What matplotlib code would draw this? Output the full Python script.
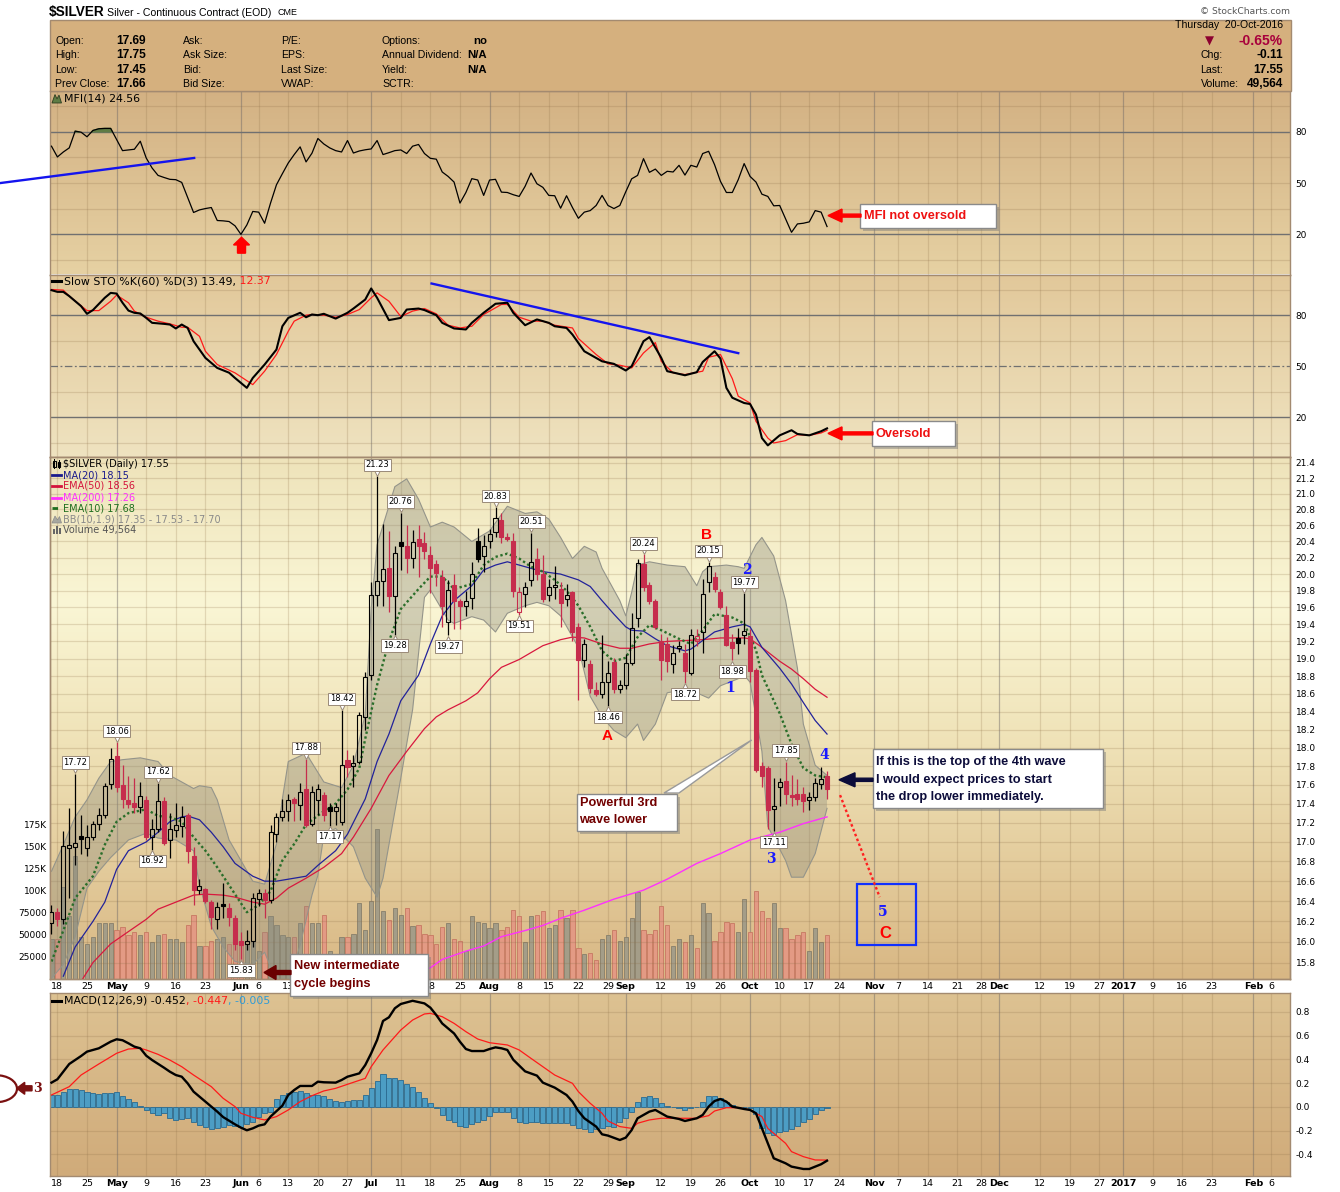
import numpy as np
import pandas as pd
import matplotlib
matplotlib.use("Agg")
import matplotlib.pyplot as plt
from matplotlib.patches import Rectangle, Polygon, FancyArrow, Ellipse
from matplotlib.colors import LinearSegmentedColormap
from matplotlib.transforms import offset_copy
from matplotlib.ticker import NullLocator, NullFormatter

# ----------------------------------------------------------------- calendar
first_session = "2016-04-15"
axis_end = "2017-02-10"
holidays = ["2016-05-30", "2016-07-04", "2016-09-05", "2016-11-24", "2016-12-26"]

# ----------------------------------------------------------------- daily data (session 0 = 15-Apr-2016)
opens = [16.18,16.29,16.22,16.94,16.95,17.06,16.94,17.05,17.19,17.28,
         17.61,17.91,17.60,17.44,17.41,17.36,17.44,17.05,17.13,17.43,
         17.02,17.12,17.16,17.28,16.86,16.51,16.52,16.39,16.22,16.37,
         16.33,16.23,16.01,15.98,16.01,16.42,16.48,16.41,17.08,17.26,
         17.32,17.45,17.39,17.55,17.19,17.44,17.49,17.36,17.32,17.21,
         17.87,17.80,17.85,18.34,18.81,19.75,19.92,20.07,19.74,20.39,
         20.35,20.20,20.43,20.38,20.23,20.12,19.97,19.43,19.87,19.68,
         19.62,19.71,20.41,20.22,20.40,20.52,20.67,20.46,20.40,19.55,
         19.76,19.93,20.19,20.00,19.75,19.85,19.82,19.70,19.78,19.37,
         18.99,18.94,18.64,18.60,18.73,18.96,18.65,18.70,18.95,19.47,
         20.12,19.87,19.68,19.21,19.17,18.94,19.12,19.06,18.84,19.21,
         19.31,19.90,19.96,19.79,19.51,19.19,19.24,19.27,19.26,18.87,
         17.80,17.78,17.34,17.58,17.64,17.49,17.50,17.50,17.44,17.47,
         17.61,17.69]
highs = [16.36,16.33,17.11,17.35,17.72,17.28,17.18,17.22,17.35,17.62,
         18.00,18.06,17.81,17.69,17.67,17.63,17.48,17.24,17.62,17.47,
         17.30,17.41,17.37,17.30,16.95,16.62,16.53,16.41,16.39,16.58,
         16.38,16.26,16.10,16.12,16.48,16.52,16.52,17.18,17.30,17.45,
         17.50,17.47,17.62,17.88,17.59,17.61,17.52,17.41,17.41,18.42,
         17.97,17.92,18.40,18.85,19.90,21.23,20.62,20.53,20.34,20.76,
         20.60,20.54,20.60,20.52,20.34,20.17,20.05,19.93,20.00,19.70,
         19.80,20.15,20.57,20.48,20.55,20.83,20.75,20.50,20.50,19.85,
         19.90,20.51,20.32,20.23,19.94,20.10,19.90,19.88,19.80,19.41,
         19.23,18.99,18.73,19.27,18.97,19.01,18.75,19.05,19.53,20.19,
         20.24,19.90,19.70,19.29,19.25,19.16,19.20,19.17,19.34,19.34,
         19.94,20.15,20.03,19.82,19.62,19.29,19.36,19.77,19.34,18.89,
         17.85,17.80,17.67,17.67,17.85,17.70,17.66,17.58,17.52,17.67,
         17.79,17.75]
lows = [16.08,16.15,16.17,16.43,16.76,16.88,16.86,17.02,17.12,17.25,
        17.55,17.52,17.35,17.35,17.30,17.30,17.02,16.92,17.10,16.97,
        16.84,17.05,17.05,16.78,16.36,16.47,16.38,16.13,16.13,16.23,
        16.15,15.92,15.83,15.92,15.95,16.35,16.23,16.38,17.00,17.22,
        17.22,17.22,17.23,17.15,17.17,17.28,17.22,17.17,17.18,17.18,
        17.68,17.58,17.82,18.20,18.75,19.62,19.62,19.54,19.28,20.05,
        20.01,20.07,19.97,20.19,19.77,19.86,19.37,19.27,19.35,19.35,
        19.50,19.58,20.15,20.03,20.32,20.45,20.38,20.40,19.73,19.51,
        19.60,19.86,19.93,19.66,19.68,19.70,19.37,19.62,19.21,18.53,
        18.90,18.61,18.57,18.55,18.46,18.61,18.61,18.65,18.93,19.37,
        19.80,19.64,19.35,18.75,18.85,18.83,19.08,18.72,18.81,19.15,
        19.07,19.78,19.78,19.58,19.15,18.98,19.05,19.17,18.73,17.74,
        17.58,17.13,17.11,17.37,17.40,17.37,17.39,17.31,17.33,17.43,
        17.55,17.45]
closes = [16.29,16.22,16.96,16.97,16.99,17.03,17.05,17.19,17.28,17.59,
          17.88,17.58,17.45,17.40,17.36,17.48,17.05,17.13,17.43,16.99,
          17.13,17.18,17.26,16.91,16.51,16.55,16.40,16.24,16.34,16.35,
          16.24,15.98,15.97,16.01,16.43,16.48,16.41,17.10,17.26,17.32,
          17.44,17.41,17.52,17.18,17.52,17.56,17.28,17.32,17.36,17.81,
          17.79,17.83,18.36,18.79,19.75,19.92,20.06,19.74,20.26,20.35,
          20.20,20.39,20.35,20.28,20.07,20.01,19.62,19.81,19.68,19.62,
          19.68,20.00,20.18,20.34,20.49,20.69,20.45,20.43,19.80,19.79,
          19.85,20.15,20.00,19.70,19.85,19.87,19.65,19.75,19.31,18.99,
          19.17,18.66,18.60,18.73,18.84,18.65,18.70,18.95,19.36,20.13,
          19.85,19.68,19.37,18.99,18.97,19.06,19.15,18.86,19.28,19.26,
          19.76,20.10,19.82,19.60,19.16,19.12,19.18,19.32,18.86,17.76,
          17.69,17.33,17.37,17.63,17.50,17.47,17.45,17.43,17.47,17.62,
          17.66,17.55]
volumes = [45000,45000,103700,70500,139000,47000,39100,47000,62600,63400,
           62600,54800,58700,48900,52800,48900,52800,41100,48900,50900,
           45000,45000,41100,60700,72400,37200,37200,43100,45000,47000,
           39100,62600,43100,39100,43100,31300,52800,70500,60700,48900,
           47000,47000,62600,82200,62600,62600,72400,31300,27400,47000,
           47000,50900,86100,54800,88100,170300,76300,66500,80200,72400,
           80200,59500,60700,50900,48900,39100,58700,62600,45000,43100,
           31300,70500,64600,62600,56800,62600,54800,58700,78300,70500,
           41100,70500,72400,76300,56800,60700,78300,68500,78300,35200,
           27400,29400,21500,45000,48900,54800,43100,47000,68500,97900,
           54800,50900,54800,82200,60700,37200,45000,41100,48900,35200,
           86100,74400,43100,52800,64600,62600,52800,90000,52800,99800,
           76300,68500,86100,56800,56800,45000,48900,52800,31300,56800,
           41100,49564]
mfi = [71.6,65.3,68.2,70.6,80.4,79.8,77.1,80.8,81.8,82.0,
       82.0,75.5,69.0,69.4,69.8,74.5,64.7,58.8,54.5,53.3,
       52.2,52.0,50.4,41.6,32.8,34.3,35.1,35.7,28.1,27.9,
       27.5,25.0,20.0,25.5,33.4,33.0,26.5,38.3,49.0,55.5,
       61.8,66.7,71.2,62.4,67.5,76.1,72.9,70.6,69.0,68.2,
       74.9,67.6,68.8,69.5,70.0,74.9,66.7,67.8,69.0,69.4,
       67.3,71.6,72.6,67.3,64.5,64.0,56.5,53.9,50.6,38.3,
       44.5,52.6,51.8,42.8,51.8,52.2,44.7,44.5,43.2,42.2,
       48.1,55.9,49.6,47.5,42.8,42.6,35.3,42.6,35.7,29.4,
       33.0,33.9,36.9,42.8,36.9,35.1,36.9,44.9,52.5,54.5,
       64.3,56.3,58.2,54.5,56.9,56.5,60.4,54.7,60.4,59.4,
       67.3,68.6,60.8,51.0,44.5,44.5,52.0,61.4,53.9,50.6,
       43.5,42.2,36.7,36.9,29.0,21.2,26.1,26.5,27.3,33.9,
       33.0,24.56]
macd_hist = [0.101,0.101,0.129,0.149,0.149,0.143,0.123,0.115,0.112,0.115,
             0.121,0.123,0.095,0.067,0.039,0.011,-0.025,-0.053,-0.067,-0.053,
             -0.095,-0.109,-0.101,-0.095,-0.123,-0.151,-0.165,-0.188,-0.180,-0.165,
             -0.151,-0.157,-0.165,-0.146,-0.123,-0.084,-0.053,-0.039,0.064,0.101,
             0.115,0.129,0.135,0.115,0.101,0.101,0.093,0.064,0.050,0.045,
             0.050,0.056,0.059,0.100,0.160,0.220,0.275,0.241,0.241,0.227,
             0.194,0.165,0.123,0.079,0.031,-0.011,-0.067,-0.109,-0.129,-0.157,
             -0.165,-0.146,-0.129,-0.109,-0.073,-0.045,-0.045,-0.045,-0.095,-0.123,
             -0.132,-0.123,-0.123,-0.137,-0.137,-0.137,-0.137,-0.137,-0.151,-0.180,
             -0.185,-0.208,-0.185,-0.174,-0.157,-0.165,-0.129,-0.095,-0.045,0.045,
             0.081,0.093,0.073,0.031,0.008,0.000,-0.006,-0.025,-0.011,0.003,
             0.045,0.093,0.093,0.073,0.045,0.017,0.000,-0.003,-0.011,-0.062,
             -0.180,-0.222,-0.236,-0.213,-0.202,-0.185,-0.157,-0.129,-0.101,-0.062,
             -0.028,-0.005]

# ----------------------------------------------------------------- indicator lines read at sessions
ma20_sess = [2,4,7,9,11,13,16,18,20,22,23,25,27,29,31,34,36,38,40,43,45,48,50,53,55,57,59,62,64,66,
             68,71,73,75,77,79,81,83,86,89,91,93,95,97,98,100,102,104,107,108,110,112,115,117,118,120,
             123,125,127,129,131]
ma20_vals = [15.67,15.95,16.20,16.39,16.72,16.91,17.00,17.10,17.21,17.26,17.27,17.23,17.10,16.95,16.78,
             16.65,16.60,16.60,16.62,16.65,16.76,16.91,17.08,17.45,17.85,18.15,18.52,18.81,19.17,19.50,
             19.68,19.86,20.05,20.11,20.15,20.11,20.07,20.03,20.00,19.93,19.85,19.68,19.52,19.37,19.33,
             19.32,19.23,19.15,19.09,19.11,19.21,19.31,19.37,19.40,19.37,19.13,18.89,18.71,18.50,18.30,18.15]
ema50_sess = [5,7,10,13,16,18,21,24,26,29,31,34,36,38,40,43,46,49,51,54,57,60,63,65,67,70,72,74,76,79,
              81,83,86,88,90,93,96,98,101,104,107,110,113,115,117,118,120,123,125,127,129,131]
ema50_vals = [15.62,15.80,15.98,16.10,16.22,16.32,16.39,16.46,16.47,16.46,16.44,16.39,16.37,16.43,16.53,
              16.63,16.74,16.88,17.05,17.35,17.70,17.96,18.21,18.34,18.42,18.52,18.61,18.77,18.90,18.99,
              19.07,19.15,19.22,19.25,19.24,19.17,19.12,19.12,19.17,19.20,19.21,19.22,19.24,19.24,19.24,
              19.23,19.13,18.97,18.88,18.77,18.65,18.56]
ma200_sess = [58,60,64,66,70,73,76,80,83,86,90,95,100,104,109,113,118,123,127,131]
ma200_vals = [15.62,15.66,15.75,15.83,15.91,15.96,16.05,16.11,16.16,16.23,16.31,16.42,16.51,16.62,16.78,
              16.88,17.02,17.10,17.19,17.26]
ema10_sess = [0,2,4,7,9,11,13,16,18,20,22,24,26,28,30,33,35,37,39,41,43,46,48,50,52,53,55,57,59,62,
              64,66,68,71,73,75,77,79,81,83,85,87,89,91,93,95,97,99,101,103,106,108,110,112,115,117,119,
              120,123,125,127,129,131]
ema10_vals = [15.81,16.11,16.43,16.65,16.97,17.21,17.30,17.34,17.27,17.26,17.21,17.05,16.91,16.74,16.56,
              16.29,16.36,16.50,16.81,16.98,17.18,17.32,17.40,17.55,17.78,18.10,18.70,19.20,19.58,19.82,
              19.97,19.97,19.82,19.88,20.11,20.21,20.25,20.19,20.09,20.03,19.93,19.80,19.62,19.37,19.09,
              18.97,19.01,19.25,19.39,19.33,19.23,19.17,19.33,19.52,19.48,19.41,19.10,18.81,18.38,18.04,
              17.78,17.70,17.68]
bb_up_sess = [0,2,4,6,8,10,12,15,18,20,22,24,25,27,28,30,32,34,36,38,39,40,43,46,49,51,53,54,55,58,
              60,62,64,66,68,71,74,77,80,82,84,86,88,90,92,93,96,97,98,99,101,104,107,109,110,111,114,
              116,117,119,120,122,124,126,127,129,131]
bb_up_vals = [16.70,16.97,17.26,17.44,17.67,17.85,17.87,17.89,17.85,17.70,17.63,17.56,17.59,17.57,17.44,
              17.02,16.81,16.60,16.57,16.98,17.45,17.85,17.94,17.63,17.57,17.81,18.37,19.58,20.36,21.09,
              21.19,20.93,20.58,20.64,20.58,20.40,20.53,20.84,20.75,20.77,20.68,20.45,20.19,20.34,20.27,
              20.07,19.68,19.50,19.78,20.11,20.15,20.11,20.09,19.86,20.03,20.09,20.11,20.09,20.07,20.36,
              20.45,20.22,19.68,18.89,18.26,17.81,17.70]
bb_lo_sess = [0,2,4,6,8,10,13,16,18,21,24,25,27,29,31,34,36,38,40,42,44,45,46,48,51,53,55,56,59,61,
              63,64,67,68,71,73,75,77,80,82,84,86,89,91,93,95,97,99,100,102,104,107,109,111,113,116,117,
              118,120,121,124,125,127,129,131]
bb_lo_vals = [15.65,15.78,16.05,16.53,16.70,16.84,17.02,17.09,17.04,17.02,16.91,16.56,16.15,15.95,15.81,
              15.78,15.90,15.62,15.60,15.97,16.46,16.66,17.07,17.14,16.95,16.63,16.44,16.63,17.67,18.42,
              19.72,19.81,19.45,19.41,19.49,19.45,19.31,19.53,19.62,19.66,19.62,19.50,19.13,18.57,18.34,
              18.19,18.11,18.26,18.08,18.26,18.61,18.65,18.61,18.55,18.69,18.77,18.81,18.73,17.96,17.16,
              16.81,16.64,16.64,16.88,17.35]
bb_mid_last = 17.53
stok_sess = [0,1,2,3,5,6,7,9,10,11,12,13,14,15,16,17,19,20,21,22,23,24,26,28,30,31,33,34,36,38,
             39,40,42,43,44,45,46,48,50,51,53,54,55,57,59,60,62,63,65,66,68,70,71,73,75,77,78,80,82,84,
             85,87,88,90,93,95,97,98,100,101,103,104,106,107,109,110,112,113,114,115,117,118,119,120,121,
             123,125,126,128,130,131]
stok_vals = [94.7,93.7,93.7,91.2,85.3,80.8,83.0,90.2,93.1,92.7,87.3,82.7,81.4,81.0,78.4,75.5,74.9,74.5,
             72.2,74.5,72.5,64.7,54.9,49.0,46.2,43.1,37.3,43.1,51.0,59.8,73.5,78.4,81.4,78.8,80.4,80.0,
             80.8,78.0,81.4,83.9,89.2,95.7,90.2,77.1,78.4,83.3,83.9,83.0,80.0,75.5,72.2,71.6,75.5,81.4,
             86.7,87.3,81.4,74.1,77.5,75.5,73.5,72.5,68.6,58.8,52.9,51.4,47.5,50.0,64.7,67.1,54.9,47.1,
             45.5,44.7,46.5,52.5,58.8,54.5,37.3,31.5,28.4,27.8,21.6,7.8,3.5,9.4,12.4,10.2,9.4,11.8,13.49]
stod_sess = [0,2,3,6,8,10,11,13,14,16,18,20,22,23,25,26,28,31,34,36,38,40,41,43,44,46,48,50,52,54,
             55,57,59,61,63,65,67,69,71,73,76,77,79,81,83,85,88,89,92,94,96,98,100,102,103,105,107,110,
             111,113,115,116,118,119,121,122,124,126,128,130,131]
stod_vals = [95.1,94.7,91.2,82.7,82.7,88.2,91.8,87.3,82.4,78.8,76.5,74.9,72.9,72.9,67.6,58.8,51.0,46.1,
             39.2,47.1,56.9,70.6,76.5,80.0,80.4,80.0,78.8,80.4,83.3,90.2,93.1,88.2,79.2,82.4,83.9,80.8,
             74.1,72.5,73.5,80.4,86.3,86.3,78.8,76.5,76.5,74.1,72.5,66.3,56.9,51.4,50.6,49.0,57.8,63.9,
             52.9,46.1,45.1,47.1,55.3,56.9,42.7,32.4,28.4,17.6,7.8,4.9,6.3,9.8,9.4,10.8,12.37]
macd_sess = [0,1,3,5,6,8,10,11,12,13,14,15,16,17,19,20,21,22,23,24,26,28,29,31,32,33,34,35,36,37,
             39,40,41,42,44,45,46,48,49,50,52,53,54,55,56,57,58,59,61,63,64,65,66,68,69,70,71,73,74,75,
             76,77,78,80,82,83,85,87,88,89,90,92,93,94,96,97,98,99,101,102,103,104,106,107,109,110,111,
             112,113,114,115,117,118,119,120,121,122,124,125,127,128,130,131]
macd_vals = [0.205,0.233,0.362,0.429,0.466,0.494,0.550,0.570,0.562,0.536,0.508,0.494,0.432,0.395,0.331,
             0.297,0.269,0.255,0.199,0.129,0.045,-0.039,-0.085,-0.146,-0.174,-0.196,-0.180,-0.157,-0.146,
             -0.081,0.011,0.101,0.143,0.177,0.177,0.213,0.208,0.205,0.227,0.255,0.283,0.353,0.452,0.564,
             0.724,0.755,0.831,0.867,0.894,0.872,0.836,0.774,0.703,0.619,0.549,0.488,0.471,0.471,0.488,
             0.502,0.494,0.480,0.398,0.300,0.264,0.205,0.163,0.101,0.045,-0.034,-0.095,-0.165,-0.230,
             -0.241,-0.278,-0.258,-0.194,-0.095,-0.039,-0.025,-0.053,-0.081,-0.101,-0.118,-0.095,-0.067,
             0.003,0.050,0.067,0.045,0.003,-0.017,-0.025,-0.053,-0.179,-0.306,-0.432,-0.474,-0.502,-0.522,
             -0.522,-0.482,-0.452]
signal_sess = [0,3,5,8,11,13,15,16,18,20,22,24,27,29,31,32,34,36,38,40,42,44,46,48,50,53,54,56,59,61,
               63,64,66,68,70,72,74,77,79,81,83,85,88,89,91,93,94,96,98,99,101,103,106,109,111,112,114,
               116,118,120,121,124,125,127,129,131]
signal_vals = [0.101,0.171,0.269,0.362,0.452,0.488,0.494,0.480,0.443,0.395,0.339,0.269,0.171,0.073,0.003,
               -0.053,-0.087,-0.109,-0.081,-0.025,0.045,0.095,0.135,0.157,0.191,0.241,0.339,0.480,0.648,
               0.732,0.783,0.788,0.760,0.704,0.634,0.572,0.541,0.522,0.480,0.409,0.339,0.269,0.199,0.129,
               0.031,-0.053,-0.118,-0.165,-0.180,-0.137,-0.109,-0.095,-0.095,-0.095,-0.073,-0.034,-0.006,
               -0.006,-0.025,-0.081,-0.180,-0.306,-0.376,-0.418,-0.446,-0.447]

# price flags (session, 'H' = high label, 'L' = low label)
flag_sess = [4,11,18,17,32,43,47,49,55,58,59,67,75,81,79,94,100,107,111,117,115,124,122]
flag_kind = ['H','H','H','L','L','H','L','H','H','L','H','L','H','H','L','L','H','L','H','H','L','H','L']

# quote header
quote_day = 'Thursday  20-Oct-2016'
quote_pct = '-0.65%'

# date axis labels
tick_dates = ['2016-04-18','2016-04-25','2016-05-02','2016-05-09','2016-05-16','2016-05-23','2016-06-01',
              '2016-06-06','2016-06-13','2016-06-20','2016-06-27','2016-07-01','2016-07-11','2016-07-18',
              '2016-07-25','2016-08-01','2016-08-08','2016-08-15','2016-08-22','2016-08-29','2016-09-01',
              '2016-09-12','2016-09-19','2016-09-26','2016-10-03','2016-10-10','2016-10-17','2016-10-24',
              '2016-11-01','2016-11-07','2016-11-14','2016-11-21','2016-11-28','2016-12-01','2016-12-12',
              '2016-12-19','2016-12-27','2017-01-02','2017-01-09','2017-01-16','2017-01-23','2017-02-01',
              '2017-02-06']
tick_texts = ['18','25','May','9','16','23','Jun','6','13','20','27','Jul','11','18','25','Aug','8','15',
              '22','29','Sep','12','19','26','Oct','10','17','24','Nov','7','14','21','28','Dec','12','19',
              '27','2017','9','16','23','Feb','6']
# labels of the middle date row that sit under the "New intermediate cycle begins" note
covered_dates = ['2016-06-20','2016-06-27','2016-07-01','2016-07-11']
month_texts = {'May','Jun','Jul','Aug','Sep','Oct','Nov','Dec','2017','Feb'}
price_ticks = [15.8,16.0,16.2,16.4,16.6,16.8,17.0,17.2,17.4,17.6,17.8,18.0,18.2,18.4,18.6,18.8,19.0,
               19.2,19.4,19.6,19.8,20.0,20.2,20.4,20.6,20.8,21.0,21.2,21.4]
vol_ticks = [25000,50000,75000,100000,125000,150000,175000]
vol_tick_texts = ['25000','50000','75000','100K','125K','150K','175K']
macd_ticks = [0.8,0.6,0.4,0.2,0.0,-0.2,-0.4]

# ----------------------------------------------------------------- session positions
sessions = pd.bdate_range(first_session, axis_end)
sessions = sessions[~sessions.isin(pd.to_datetime(holidays))]
sess_of = {d: i for i, d in enumerate(sessions)}
tick_pos = [sess_of[pd.Timestamp(d)] for d in tick_dates]
n = len(closes)
days = np.arange(n)
XLIM = (-0.25, 209.2)

plt.rcParams['font.family'] = ['DejaVu Sans']
W, H = 1340, 1192
fig = plt.figure(figsize=(W / 100, H / 100), dpi=100)
fig.patch.set_facecolor('white')


def px_axes(x0, y0, x1, y1):
    return fig.add_axes([x0 / W, 1 - y1 / H, (x1 - x0) / W, (y1 - y0) / H])


ax_mfi = px_axes(50, 91, 1290, 274.5)
ax_sto = px_axes(50, 274.5, 1290, 457.3)
ax_vol = px_axes(50, 457.3, 1290, 978.5)
ax_price = ax_vol.twinx()
ax_macd = px_axes(50, 993.3, 1290, 1176)
ov = fig.add_axes([0, 0, 1, 1])
ov.set_xlim(0, W)
ov.set_ylim(H, 0)
ov.axis('off')
ov.set_zorder(20)

FRAME = '#a38a70'
WEEK_GRID = (0.55, 0.43, 0.28, 0.22)
MONTH_GRID = (0.42, 0.40, 0.40, 0.45)


def paint(ax, stops):
    cmap = LinearSegmentedColormap.from_list('bg', stops)
    ax.imshow(np.linspace(0, 1, 256).reshape(-1, 1), cmap=cmap, aspect='auto', extent=(0, 1, 0, 1),
              transform=ax.transAxes, origin='upper', zorder=-20, interpolation='bilinear')


def frame(ax):
    for sp in ax.spines.values():
        sp.set_color(FRAME)
        sp.set_linewidth(1.0)


def vgrid(ax):
    for p, t in zip(tick_pos, tick_texts):
        ax.axvline(p, color=MONTH_GRID if t in month_texts else WEEK_GRID, lw=0.9, zorder=-5)


def date_labels(ax, hidden=()):
    hidden_pos = {sess_of[pd.Timestamp(d)] for d in hidden}
    ax.set_xticks(tick_pos)
    ax.set_xticklabels(['' if p in hidden_pos else t for p, t in zip(tick_pos, tick_texts)], fontsize=6.8)
    for lab in ax.get_xticklabels():
        if lab.get_text() in month_texts:
            lab.set_fontweight('bold')
    ax.tick_params(axis='x', length=0, pad=2.2)


# ----------------------------------------------------------------- MFI panel
paint(ax_mfi, [(0, '#d3b183'), (1, '#e6d1a3')])
vgrid(ax_mfi)
for lv in (5, 35, 50, 65, 95):
    ax_mfi.axhline(lv, color=WEEK_GRID, lw=0.9, zorder=-4)
for lv in (20, 80):
    ax_mfi.axhline(lv, color='#707070', lw=1.0, zorder=-3)
mfi_arr = np.array(mfi)
ax_mfi.fill_between(days, mfi_arr, 80, where=mfi_arr > 80, interpolate=True, color='#5e7c44', zorder=2)
ax_mfi.plot(days, mfi, color='black', lw=0.9, zorder=3)
ax_mfi.plot([-8.7, 24.1], [50.0, 64.7], color='#1414ee', lw=1.7, clip_on=False, zorder=4)
ax_mfi.add_patch(FancyArrow(32.1, 9.0, 0, 9.3, width=1.35, head_width=2.7, head_length=4.5,
                            length_includes_head=True, color='#ff0000', zorder=4))
ax_mfi.set_xlim(*XLIM)
ax_mfi.set_ylim(-3.5, 103.9)
ax_mfi.set_xticks([])
ax_mfi.yaxis.tick_right()
ax_mfi.set_yticks([20, 50, 80])
ax_mfi.set_yticklabels(['20', '50', '80'], fontsize=6.5)
ax_mfi.tick_params(axis='y', length=0, pad=4)
frame(ax_mfi)

# ----------------------------------------------------------------- Slow stochastic panel
paint(ax_sto, [(0, '#e2c89a'), (1, '#efe3c0')])
vgrid(ax_sto)
for lv in (5, 35, 65, 95):
    ax_sto.axhline(lv, color=WEEK_GRID, lw=0.9, zorder=-4)
for lv in (20, 80):
    ax_sto.axhline(lv, color='#707070', lw=1.0, zorder=-3)
ax_sto.axhline(50, color='#707070', lw=0.9, ls=(0, (6, 2, 1.5, 2)), zorder=-3)
ax_sto.plot(stod_sess, stod_vals, color='#ff1a1a', lw=0.9, zorder=3)
ax_sto.plot(stok_sess, stok_vals, color='black', lw=1.5, zorder=4)
ax_sto.plot([64.2, 116.0], [98.6, 57.7], color='#1414ee', lw=1.7, zorder=5)
ax_sto.set_xlim(*XLIM)
ax_sto.set_ylim(-3.5, 103.9)
ax_sto.set_xticks([])
ax_sto.yaxis.tick_right()
ax_sto.set_yticks([20, 50, 80])
ax_sto.set_yticklabels(['20', '50', '80'], fontsize=6.5)
ax_sto.tick_params(axis='y', length=0, pad=4)
frame(ax_sto)

# ----------------------------------------------------------------- price + volume panel
paint(ax_vol, [(0, '#eee3ba'), (0.28, '#faf6d5'), (0.55, '#efe2b7'), (0.85, '#e0c594'), (1, '#d8b784')])
vgrid(ax_vol)
up_day = [True] + [closes[i] >= closes[i - 1] for i in range(1, n)]
vcol = ['#a49d88' if u else '#e39a84' for u in up_day]
vedge = ['#877f6b' if u else '#c77862' for u in up_day]
ax_vol.bar(days, volumes, width=0.72, color=vcol, edgecolor=vedge, lw=0.6, zorder=2)
ax_vol.set_xlim(*XLIM)
ax_vol.set_ylim(0, 592000)
ax_vol.set_yticks(vol_ticks)
ax_vol.set_yticklabels(vol_tick_texts, fontsize=6.5)
ax_vol.tick_params(axis='y', length=0, pad=2)
date_labels(ax_vol, covered_dates)
frame(ax_vol)

ax_price.set_yscale('log')
for p in price_ticks:
    ax_price.axhline(p, color=WEEK_GRID, lw=0.9, zorder=0)
band_x = list(bb_up_sess) + list(bb_lo_sess[::-1])
band_y = list(bb_up_vals) + list(bb_lo_vals[::-1])
ax_price.fill(band_x, band_y, facecolor='#8a8a7c', alpha=0.36, edgecolor='none', zorder=1)
ax_price.plot(bb_up_sess, bb_up_vals, color='#94948a', lw=0.8, zorder=1.2)
ax_price.plot(bb_lo_sess, bb_lo_vals, color='#94948a', lw=0.8, zorder=1.2)
ax_price.plot(ma200_sess, ma200_vals, color='#ff30ff', lw=1.0, zorder=2)
ax_price.plot(ema50_sess, ema50_vals, color='#d8183e', lw=0.9, zorder=2)
ax_price.plot(ma20_sess, ma20_vals, color='#22229a', lw=0.9, zorder=2)
ax_price.plot(ema10_sess, ema10_vals, color='#2a6e2a', lw=1.7, ls=(0, (1, 1.1)), zorder=2.2)

RED = '#c62d4d'
for i in range(n):
    o, h, l, c = opens[i], highs[i], lows[i], closes[i]
    col = 'black' if up_day[i] else RED
    hollow = c > o
    lo_b, hi_b = min(o, c), max(o, c)
    ax_price.vlines(i, hi_b, h, color=col, lw=0.9, zorder=3)
    ax_price.vlines(i, l, lo_b, color=col, lw=0.9, zorder=3)
    ax_price.add_patch(Rectangle((i - 0.34, lo_b), 0.68, max(hi_b - lo_b, 0.008),
                                 facecolor='none' if hollow else col, edgecolor=col, lw=0.8, zorder=3.1))

for s, kind in zip(flag_sess, flag_kind):
    if kind == 'H':
        v, off, mk, va = highs[s], 1, 'v', 'bottom'
    else:
        v, off, mk, va = lows[s], -1, '^', 'top'
    tr = offset_copy(ax_price.transData, fig=fig, x=0, y=3.2 * off, units='dots')
    ax_price.plot([s], [v], marker=mk, ms=5, mfc='white', mec='#9a8a78', mew=0.7, transform=tr, zorder=6)
    ax_price.annotate(f'{v:.2f}', xy=(s, v), xytext=(0, 6.5 * off), textcoords='offset pixels', ha='center',
                      va=va, fontsize=6, zorder=7,
                      bbox=dict(boxstyle='square,pad=0.2', fc='white', ec='#9a8a78', lw=0.7))

# Elliott wave marks
for txt, sx, py, col, fam, fs in [('A', 93.8, 18.13, '#ff0000', 'Liberation Sans', 11),
                                  ('B', 110.7, 20.48, '#ff0000', 'Liberation Sans', 11),
                                  ('1', 114.6, 18.66, '#1a1aff', 'DejaVu Serif', 10),
                                  ('2', 117.5, 20.05, '#1a1aff', 'DejaVu Serif', 10),
                                  ('3', 121.5, 16.82, '#1a1aff', 'DejaVu Serif', 10),
                                  ('4', 130.5, 17.92, '#1a1aff', 'DejaVu Serif', 10),
                                  ('5', 140.4, 16.29, '#1a1aff', 'DejaVu Serif', 10),
                                  ('C', 140.9, 16.08, '#ff0000', 'Liberation Sans', 12)]:
    ax_price.text(sx, py, txt, color=col, family=fam, fontsize=fs, fontweight='bold', ha='center',
                  va='center', zorder=8)
ax_price.add_patch(Rectangle((136.0, 15.97), 10.0, 0.60, fc='none', ec='#1030ff', lw=1.6, zorder=8))
ax_price.plot([133.2, 139.9], [17.49, 16.44], color='#ff2020', lw=1.7, ls=(0, (1.1, 1.1)), zorder=8)

ax_price.set_xlim(*XLIM)
ax_price.set_ylim(15.648, 21.469)
ax_price.set_yticks(price_ticks)
ax_price.set_yticklabels([f'{p:.1f}' for p in price_ticks], fontsize=6.5)
ax_price.yaxis.set_minor_locator(NullLocator())
ax_price.yaxis.set_minor_formatter(NullFormatter())
ax_price.tick_params(axis='y', which='both', length=0, pad=4)
frame(ax_price)

# ----------------------------------------------------------------- MACD panel
paint(ax_macd, [(0, '#ddc292'), (1, '#d0ab7a')])
vgrid(ax_macd)
for lv in macd_ticks:
    ax_macd.axhline(lv, color=WEEK_GRID, lw=0.9, zorder=-4)
hist_arr = np.array(macd_hist)
ax_macd.bar(days, hist_arr, width=0.86, color='#4c9dc4', edgecolor='#2a6a90', lw=0.6, zorder=2)
ax_macd.plot(signal_sess, signal_vals, color='#ff1a1a', lw=0.9, zorder=3)
ax_macd.plot(macd_sess, macd_vals, color='black', lw=1.7, zorder=4)
ax_macd.set_xlim(*XLIM)
ax_macd.set_ylim(-0.581, 0.957)
ax_macd.yaxis.tick_right()
ax_macd.set_yticks(macd_ticks)
ax_macd.set_yticklabels([f'{t:.1f}' for t in macd_ticks], fontsize=6.5)
ax_macd.tick_params(axis='y', length=0, pad=4)
date_labels(ax_macd)
frame(ax_macd)

# ----------------------------------------------------------------- header (pixel overlay)
HF = 'Liberation Sans'
ov.add_patch(Rectangle((49.5, 19.5), 1241, 71.5, fc='#d5b07e', ec=FRAME, lw=1, zorder=0))
ov.text(49, 12, '$SILVER', family=HF, fontsize=9.8, fontweight='bold', va='center')
ov.text(107, 12.5, 'Silver - Continuous Contract (EOD)', family=HF, fontsize=7.6, va='center')
ov.text(278, 12.8, 'CME', family=HF, fontsize=6.4, va='center')
ov.text(1290, 12, '\u00a9 StockCharts.com', fontsize=6.6, color='#555555', ha='right', va='center')
rows_y = [40.5, 55.2, 69.8, 84.0]
col1 = ['Open:', 'High:', 'Low:', 'Prev Close:']
col1_vals = [f'{opens[-1]:.2f}', f'{highs[-1]:.2f}', f'{lows[-1]:.2f}', f'{closes[-2]:.2f}']
col2 = ['Ask:', 'Ask Size:', 'Bid:', 'Bid Size:']
col3 = ['P/E:', 'EPS:', 'Last Size:', 'VWAP:']
col4 = ['Options:', 'Annual Dividend:', 'Yield:', 'SCTR:']
col4_vals = ['no', 'N/A', 'N/A', '']
for k, y in enumerate(rows_y):
    ov.text(55, y, col1[k], family=HF, fontsize=7.6, va='center')
    ov.text(146, y, col1_vals[k], family=HF, fontsize=8.6, fontweight='bold', va='center', ha='right')
    ov.text(183, y, col2[k], family=HF, fontsize=7.6, va='center')
    ov.text(281, y, col3[k], family=HF, fontsize=7.6, va='center')
    ov.text(382, y, col4[k], family=HF, fontsize=7.6, va='center')
    ov.text(487, y, col4_vals[k], family=HF, fontsize=8.2, fontweight='bold', va='center', ha='right')
chg = closes[-1] - closes[-2]
ov.text(1283, 25.5, quote_day, family=HF, fontsize=7.6, va='center', ha='right')
ov.text(1209, 41, '\u25bc', fontsize=8.5, color='#8c0030', va='center', ha='center')
ov.text(1283, 41, quote_pct, family=HF, fontsize=10, fontweight='bold',
        color='#a8003c', va='center', ha='right')
for y, lab, val in [(55.2, 'Chg:', f'{chg:.2f}'), (69.8, 'Last:', f'{closes[-1]:.2f}'),
                    (84.0, 'Volume:', f'{volumes[-1]:,}')]:
    ov.text(1200.5, y, lab, family=HF, fontsize=7.6, va='center')
    ov.text(1283, y, val, family=HF, fontsize=8.6, fontweight='bold', va='center', ha='right')

# ----------------------------------------------------------------- panel legends
renderer = fig.canvas.get_renderer()


def chain(x, y, parts, fs):
    for s, c in parts:
        t = ov.text(x, y, s, color=c, fontsize=fs, va='center', ha='left')
        x += t.get_window_extent(renderer).width


ov.add_patch(Polygon([(52, 103), (55, 94.5), (57, 99), (59, 95), (61.5, 103)], closed=True,
                     fc='#5e7c44', ec='#2c3c20', lw=0.6))
chain(64, 98.7, [(f'MFI(14) {mfi[-1]:.2f}', 'black')], 7.9)
ov.plot([52, 61], [281.3, 281.3], color='black', lw=2.2)
chain(64, 281.3, [(f'Slow STO %K(60) %D(3) {stok_vals[-1]:.2f},', 'black'), (f' {stod_vals[-1]:.2f}', '#ff1a1a')], 7.9)
ov.plot([52, 61], [1000.7, 1000.7], color='black', lw=2.2)
chain(64, 1000.7, [(f'MACD(12,26,9) {macd_vals[-1]:.3f}', 'black'), (f', {signal_vals[-1]:.3f}', '#ff1a1a'),
                   (f', {macd_hist[-1]:.3f}', '#2f9bd6')], 7.9)

legend_rows = [(463.6, f'$SILVER (Daily) {closes[-1]:.2f}', 'black'),
               (475.0, f'MA(20) {ma20_vals[-1]:.2f}', '#1a1a8c'),
               (486.0, f'EMA(50) {ema50_vals[-1]:.2f}', '#d4143c'),
               (497.5, f'MA(200) {ma200_vals[-1]:.2f}', '#ff30ff'),
               (508.4, f'EMA(10) {ema10_vals[-1]:.2f}', '#1e6e1e'),
               (519.3, f'BB(10,1.9) {bb_lo_vals[-1]:.2f} - {bb_mid_last:.2f} - {bb_up_vals[-1]:.2f}', '#8a8a8a'),
               (529.5, f'Volume {volumes[-1]:,}', '#555555')]
for y, s, c in legend_rows:
    ov.text(63, y, s, color=c, fontsize=7, va='center', ha='left')
ov.add_patch(Rectangle((53, 460.5), 2.6, 6, fc='none', ec='black', lw=0.8))
ov.add_patch(Rectangle((57.5, 461.5), 2.6, 5, fc='black', ec='black', lw=0.8))
ov.plot([54.3, 54.3], [459, 468], color='black', lw=0.7)
ov.plot([58.8, 58.8], [459.5, 468], color='black', lw=0.7)
ov.plot([52, 61], [475, 475], color='#1a1a8c', lw=2)
ov.plot([52, 61], [486, 486], color='#d4143c', lw=2)
ov.plot([52, 61], [497.5, 497.5], color='#ff30ff', lw=2)
ov.plot([52, 61], [508.4, 508.4], color='#1e6e1e', lw=2, ls=(0, (2, 1.5)))
ov.add_patch(Polygon([(52, 523), (55, 516), (57.5, 520), (59.5, 516.5), (61.5, 523)], closed=True,
                     fc='#a8a8a0', ec='#8a8a8a', lw=0.5))
for bx, bh in [(52.5, 5), (55.5, 8), (58.5, 6)]:
    ov.add_patch(Rectangle((bx, 533.5 - bh), 2, bh, fc='#666666', ec='none'))

# ----------------------------------------------------------------- annotation boxes and arrows
def note_box(x0, y0, x1, y1):
    ov.add_patch(Rectangle((x0 + 3, y0 + 3), x1 - x0, y1 - y0, fc='#7a7a7a', ec='none', alpha=0.45, zorder=1))
    ov.add_patch(Rectangle((x0, y0), x1 - x0, y1 - y0, fc='white', ec='#8a8a8a', lw=1, zorder=2))


def note_text(x, y, s, col, fs=9.2):
    ov.text(x, y, s, family=HF, fontsize=fs, fontweight='bold', color=col, va='center', ha='left', zorder=3)


def left_arrow(x_tail, x_tip, y, col, shaft=3.0, hw=13, hl=14):
    ov.add_patch(FancyArrow(x_tail, y, x_tip - x_tail, 0, width=shaft, head_width=hw, head_length=hl,
                            length_includes_head=True, color=col, zorder=3))


note_box(860, 204, 996, 228)
note_text(864, 216.2, 'MFI not oversold', '#ee1111')
left_arrow(861, 828, 215.6, '#ff0000')

note_box(872, 421, 955, 446)
note_text(876, 433.8, 'Oversold', '#ee1111')
left_arrow(873, 828, 433.4, '#ff0000')

note_box(872.7, 749, 1103.3, 808)
for y, s in [(761.5, 'If this is the top of the 4th wave'), (779.5, 'I would expect prices to start'),
             (797.3, 'the drop lower immediately.')]:
    note_text(875.5, y, s, '#0c0c3a')
left_arrow(873, 839, 779.8, '#0c0c3a', shaft=3.2, hw=14, hl=16)

ov.add_patch(Polygon([(664, 793), (679, 793), (751.7, 740)], closed=True, fc='white', ec='#9a9a9a',
                     lw=1, zorder=1.5))
note_box(576.7, 794, 676.7, 831)
note_text(579.5, 802.5, 'Powerful 3rd', '#720000', 9.2)
note_text(579.5, 820.2, 'wave lower', '#720000', 9.2)

note_box(290, 953.5, 428, 995.5)
note_text(294, 966.4, 'New intermediate', '#720000', 9.2)
note_text(294, 984.2, 'cycle begins', '#720000', 9.2)
left_arrow(291, 264, 972.5, '#6a0000', shaft=4, hw=14, hl=12)

ov.add_patch(Ellipse((-4, 1088.7), 42, 27, fc='none', ec='#7a1010', lw=1.6, zorder=3))
left_arrow(32, 16.7, 1088.3, '#7a1010', shaft=5, hw=12, hl=8)
ov.text(33.5, 1088.5, '3', family='DejaVu Serif', fontsize=9, fontweight='bold', color='#7a1010',
        va='center', ha='left', zorder=3)

fig.savefig('out.png', dpi=100, facecolor='white')
